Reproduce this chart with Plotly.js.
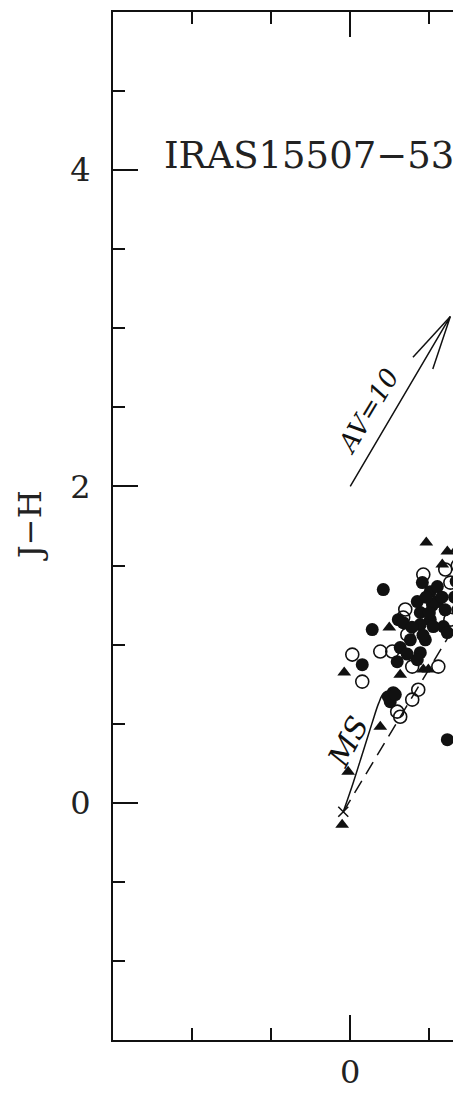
<!DOCTYPE html>
<html><head><meta charset="utf-8">
<script src="https://cdn.plot.ly/plotly-3.0.1.min.js"></script>
<style>html,body{margin:0;padding:0;overflow:hidden;background:#fff;width:453px;height:1093px}#plot{width:1200px;height:1093px}</style>
</head><body><div id="plot"></div><script>
// H-K (x) and J-H (y) colours
const filledX = [0.209,0.139,0.076,0.304,0.335,0.443,0.424,0.456,0.506,0.551,0.551,0.506,0.589,0.443,0.525,0.614,0.443,0.424,0.316,0.297,0.272,0.253,0.241,0.285,0.614,0.380,0.475,0.390,0.66,0.68,0.70,0.67,0.52,0.48,0.58,0.60,0.50,0.46,0.36];
const filledY = [1.348,1.095,0.873,1.158,1.139,1.203,1.272,1.392,1.335,1.367,1.272,1.158,1.114,1.127,1.114,1.076,0.949,0.905,0.981,0.892,0.696,0.639,0.671,0.684,0.399,1.030,1.030,1.110,1.30,1.22,1.15,1.40,1.25,1.30,1.30,1.22,1.20,1.06,0.94];
const openX = [0.013,0.076,0.190,0.266,0.335,0.361,0.392,0.557,0.297,0.316,0.392,0.430,0.462,0.601,0.633,0.633,0.348,0.68];
const openY = [0.937,0.766,0.956,0.956,1.171,1.063,0.861,0.861,0.576,0.544,0.652,0.715,1.443,1.475,1.392,1.158,1.222,1.50];
const triX = [0.481,0.614,0.582,0.247,-0.038,0.316,0.462,0.494,0.190,-0.013,-0.051,0.67];
const triY = [1.646,1.589,1.506,1.108,0.823,0.810,0.842,0.842,0.481,0.196,-0.139,1.60];
// main-sequence locus
const msX = [-0.044,0.02,0.08,0.14,0.18,0.21,0.24,0.26];
const msY = [-0.057,0.13,0.32,0.51,0.63,0.69,0.70,0.68];
// reddening band line
const bandX = [-0.044,1.6];
const bandY = [-0.057,2.68];
// reddening vector AV=10
const vecX = [0.0,0.633];
const vecY = [2.0,3.075];
const originX = [-0.044], originY = [-0.057];

const ink = '#111';
// arrow head barbs (equal x/y scale)
const dx = vecX[1]-vecX[0], dy = vecY[1]-vecY[0], dl = Math.hypot(dx,dy);
const bx = -dx/dl, by = -dy/dl, L = 0.35, a = 12*Math.PI/180;
function rot(x,y,t){return [x*Math.cos(t)-y*Math.sin(t), x*Math.sin(t)+y*Math.cos(t)];}
const b1 = rot(bx,by,a), b2 = rot(bx,by,-a);
const arrX = [vecX[0],vecX[1],vecX[1]+L*b1[0],null,vecX[1],vecX[1]+L*b2[0]];
const arrY = [vecY[0],vecY[1],vecY[1]+L*b1[1],null,vecY[1],vecY[1]+L*b2[1]];

const traces = [
 {x:msX,y:msY,mode:'lines',line:{color:ink,width:1.5,shape:'spline'},hoverinfo:'skip'},
 {x:bandX,y:bandY,mode:'lines',line:{color:ink,width:1.5,dash:'14px,8px'},hoverinfo:'skip'},
 {x:arrX,y:arrY,mode:'lines',line:{color:ink,width:1.5},hoverinfo:'skip'},
 {x:originX,y:originY,mode:'markers',marker:{symbol:'x-thin-open',size:10,color:ink,line:{color:ink,width:1.5}}},
 {x:openX,y:openY,mode:'markers',marker:{symbol:'circle-open',size:13,color:ink,line:{color:ink,width:1.6}}},
 {x:filledX,y:filledY,mode:'markers',marker:{symbol:'circle',size:13,color:ink}},
 {x:triX,y:triY,mode:'markers',marker:{symbol:'triangle-up',size:12,color:ink}}
];
const tickFont = {family:'DejaVu Serif',size:32,color:'#222'};
function ax(extra){return Object.assign({range:[-1.5,5],autorange:false,tick0:0,dtick:2,ticks:'inside',ticklen:25,tickwidth:2,tickcolor:ink,
 showline:true,linewidth:2,linecolor:ink,mirror:'ticks',showgrid:false,zeroline:false,tickfont:tickFont,
 minor:{tick0:0,dtick:0.5,ticks:'inside',ticklen:12,tickwidth:2,tickcolor:ink,showgrid:false}},extra);}
const layout = {
 width:1200,height:1093,margin:{l:113,r:59,t:12,b:53},
 paper_bgcolor:'#fff',plot_bgcolor:'#fff',showlegend:false,
 xaxis:ax({ticklabelstandoff:3}),yaxis:ax({ticklabelstandoff:14}),
 annotations:[
  {xref:'x',yref:'y',x:-1.19,y:4.09,xanchor:'left',yanchor:'middle',text:'IRAS15507−5359',showarrow:false,
   font:{family:'DejaVu Serif',size:37,color:'#222'}},
  {xref:'paper',yref:'paper',x:0,y:0.5,xshift:-83,xanchor:'center',yanchor:'middle',textangle:-90,text:'J−H',showarrow:false,
   font:{family:'DejaVu Serif',size:32,color:'#222'}},
  {xref:'x',yref:'y',x:0.114,y:2.475,text:'<i>AV=10</i>',textangle:-59,showarrow:false,
   font:{family:'DejaVu Serif',size:26,color:ink}},
  {xref:'x',yref:'y',x:-0.013,y:0.386,text:'<i>MS</i>',textangle:-62,showarrow:false,
   font:{family:'DejaVu Serif',size:30,color:ink}}
 ]
};
Plotly.newPlot('plot',traces,layout,{staticPlot:true,displayModeBar:false});
</script></body></html>
